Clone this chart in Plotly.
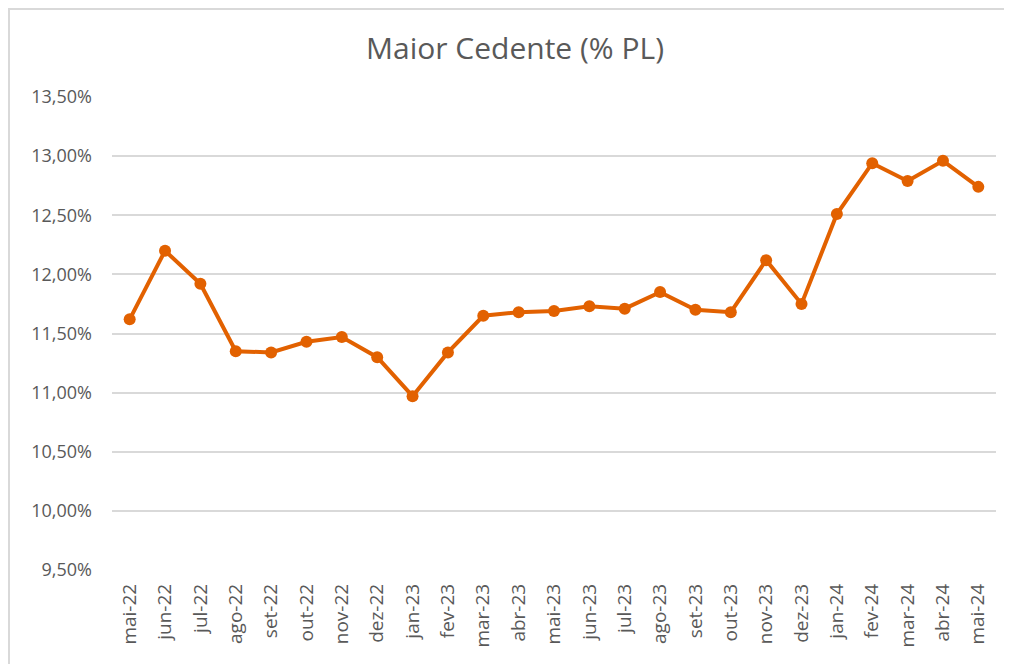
import plotly.graph_objects as go

# Maior cedente como % do PL, mensal
meses = ['mai-22', 'jun-22', 'jul-22', 'ago-22', 'set-22', 'out-22', 'nov-22', 'dez-22',
         'jan-23', 'fev-23', 'mar-23', 'abr-23', 'mai-23', 'jun-23', 'jul-23', 'ago-23',
         'set-23', 'out-23', 'nov-23', 'dez-23', 'jan-24', 'fev-24', 'mar-24', 'abr-24',
         'mai-24']
maior_cedente = [11.62, 12.20, 11.92, 11.35, 11.34, 11.43, 11.47, 11.30,
                 10.97, 11.34, 11.65, 11.68, 11.69, 11.73, 11.71, 11.85,
                 11.70, 11.68, 12.12, 11.75, 12.51, 12.94, 12.79, 12.96,
                 12.74]
y_ticks = [9.5, 10.0, 10.5, 11.0, 11.5, 12.0, 12.5, 13.0, 13.5]
y_ticktext = [f'{v:.2f}%'.replace('.', ',') for v in y_ticks]

# a página tem margem de 8px, a figura começa em (8, 8)
W, H = 1012, 664
ML, MR, MT, MB = 104, 24, 89, 102

fig = go.Figure()

fig.add_trace(go.Scatter(
    x=meses,
    y=maior_cedente,
    mode='lines+markers',
    line=dict(color='#E26100', width=4),
    marker=dict(color='#E26100', size=12),
    showlegend=False
))

# moldura do gráfico
pw = W - ML - MR
ph = H - MT - MB
fig.add_shape(
    type='rect', xref='paper', yref='paper',
    x0=(1 - ML) / pw, x1=(W + 20 - ML) / pw,
    y0=-(MB + 20) / ph, y1=(H - 1 - MB) / ph,
    line=dict(color='#D9D9D9', width=2), fillcolor='rgba(0,0,0,0)', layer='below'
)

fig.update_layout(
    width=W, height=H,
    margin=dict(l=ML, r=MR, t=MT, b=MB),
    paper_bgcolor='white',
    plot_bgcolor='white',
    font=dict(family='Open Sans', color='#595959', size=18),
    title=dict(text='Maior Cedente (% PL)', x=507 / W, xanchor='center',
               y=1 - 40 / H, yanchor='middle', xref='container', yref='container',
               font=dict(size=30, color='#595959')),
    xaxis=dict(
        type='category',
        range=[-0.5, len(meses) - 0.5],
        tickangle=-90,
        showgrid=False,
        showline=False,
        ticks='',
        ticklabelstandoff=9,
        tickfont=dict(size=19, color='#595959')
    ),
    yaxis=dict(
        range=[9.5, 13.5],
        tickvals=y_ticks,
        ticktext=y_ticktext,
        showgrid=True,
        gridcolor='#D9D9D9',
        gridwidth=2,
        zeroline=False,
        showline=False,
        ticks='',
        ticklabelstandoff=19,
        tickfont=dict(size=18, color='#595959')
    )
)

fig.write_html('out.html')
